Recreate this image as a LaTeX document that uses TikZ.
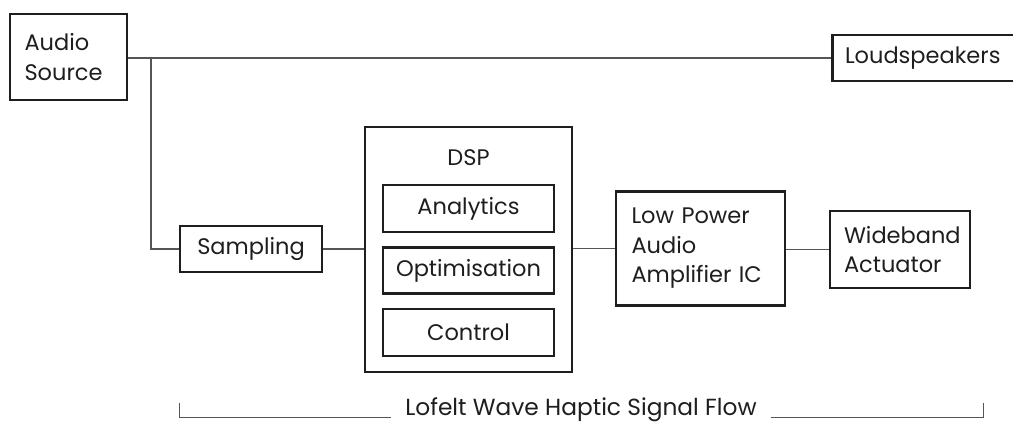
\documentclass[tikz,border=0pt]{standalone}
\usepackage{fontspec}
\setmainfont{Poppins}
\definecolor{ink}{HTML}{1E1E1E}
\definecolor{wire}{HTML}{555555}
\begin{document}
\begin{tikzpicture}[x=1pt,y=-1pt,
  box/.style={draw=ink,line width=2.8pt,rectangle,inner sep=0pt,text=ink,font=\fontsize{22.5}{29.5}\selectfont},
  wirel/.style={draw=wire,line width=1.5pt},
  brack/.style={draw=wire,line width=1pt}]
\useasboundingbox (0,0) rectangle (1013,425);
\clip (0,0) rectangle (1013,425);
% boxes by corners
\node[box,minimum width=117pt,minimum height=86pt,align=left,text width=88pt] (src) at (68.5,57) {Audio\\Source};
\node[box,minimum width=183pt,minimum height=46pt,align=left,text width=158pt] (ls) at (924,58) {Loudspeakers};
\node[box,minimum width=142pt,minimum height=46pt] (samp) at (251,249) {Sampling};
\node[box,minimum width=207pt,minimum height=245pt] (dsp) at (468.5,249.5) {};
\node[text=ink,font=\fontsize{22.5}{26}\selectfont] (dsplbl) at (468.5,158) {DSP};
\node[box,minimum width=171pt,minimum height=47pt] (ana) at (468.5,208.5) {Analytics};
\node[box,minimum width=171pt,minimum height=46pt] (opt) at (468.5,270.5) {Optimisation};
\node[box,minimum width=171pt,minimum height=47pt] (ctl) at (468.5,332.5) {Control};
\node[box,minimum width=169pt,minimum height=114pt,align=left,text width=138pt] (amp) at (700.5,248.5) {Low Power\\Audio\\Amplifier IC};
\node[box,minimum width=140pt,minimum height=77pt,align=left,text width=112pt] (wb) at (900,249.5) {Wideband\\Actuator};
% connectors
\coordinate (j) at (151,58);
\draw[wirel] (src.east |- ls.west) -- (ls.west);
\draw[wirel] (j) |- (samp.west);
\draw[wirel] (samp.east) -- (samp.east -| dsp.west);
\draw[wirel] (dsp.east |- amp.west) -- (amp.west);
\draw[wirel] (amp.east |- wb.west) -- (wb.west);
% bracket
\node[text=ink,font=\fontsize{23.3}{27}\selectfont,inner sep=0pt] (flow) at (581,410) {Lofelt Wave Haptic Signal Flow};
\coordinate (bl) at (179,403);
\coordinate (br) at (983,403);
\draw[brack] (bl) |- ([xshift=-14pt]flow.west |- 0,417);
\draw[brack] (br) |- ([xshift=14pt]flow.east |- 0,417);
\end{tikzpicture}
\end{document}
